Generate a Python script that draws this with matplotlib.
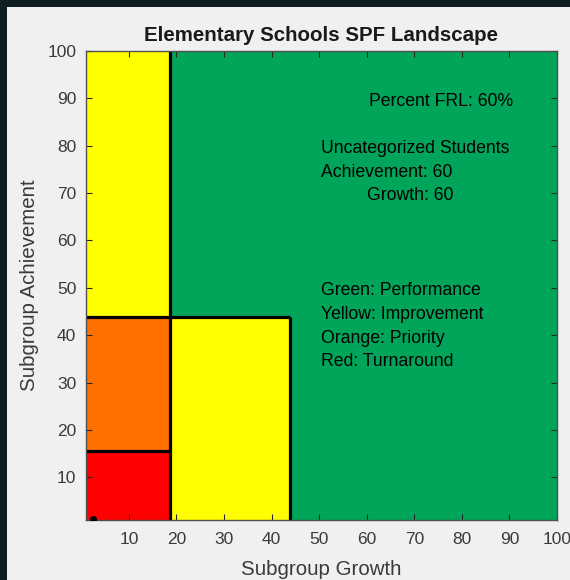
import matplotlib
matplotlib.use("Agg")
import matplotlib.pyplot as plt
from matplotlib.patches import Rectangle

plt.rcParams['font.family'] = ['Liberation Sans', 'DejaVu Sans']

# ---- data ----
title = "Elementary Schools SPF Landscape"
x_label = "Subgroup Growth"
y_label = "Subgroup Achievement"
ticks = [10, 20, 30, 40, 50, 60, 70, 80, 90, 100]
axis_min, axis_max = 1, 100

# rating regions (growth range, achievement range); remaining area is green
region_names = ["Yellow (upper)", "Yellow (lower)", "Orange", "Red"]
region_x0 = [1, 18.6, 1, 1]
region_x1 = [18.6, 43.8, 18.6, 18.6]
region_y0 = [43.8, 1, 15.6, 1]
region_y1 = [100, 43.8, 43.8, 15.6]
region_colors = ["#FFFF00", "#FFFF00", "#FF7000", "#FF0000"]
background_color = "#00A55A"

# boundary lines between ratings
boundary_x = [[18.6, 18.6], [1, 43.8], [43.8, 43.8], [1, 18.6]]
boundary_y = [[1, 100], [43.8, 43.8], [1, 43.8], [15.6, 15.6]]

# school point
school_x = [2.5]
school_y = [1.2]

frl_text = "Percent FRL: 60%"
uncat_lines = ["Uncategorized Students", "Achievement: 60", "Growth: 60"]
uncat_x = [50.3, 50.3, 60]
uncat_y = [80, 75, 70]
legend_lines = ["Green: Performance", "Yellow: Improvement", "Orange: Priority", "Red: Turnaround"]
legend_y = [50, 45, 40, 35]

# ---- figure ----
fig = plt.figure(figsize=(5.7, 5.8), dpi=100, facecolor="#0f1f21")
panel = Rectangle((7 / 570, 0), 1, 1 - 7 / 580, transform=fig.transFigure,
                  facecolor="#F0F0F0", edgecolor="none", zorder=-10)
fig.patches.append(panel)

ax = fig.add_axes([86 / 570, 1 - 520 / 580, (557 - 86) / 570, (520 - 51) / 580])
ax.set_zorder(1)
ax.set_facecolor(background_color)
ax.set_xlim(axis_min, axis_max)
ax.set_ylim(axis_min, axis_max)

for x0, x1, y0, y1, c in zip(region_x0, region_x1, region_y0, region_y1, region_colors):
    ax.add_patch(Rectangle((x0, y0), x1 - x0, y1 - y0, facecolor=c, edgecolor="none", zorder=1))

for bx, by in zip(boundary_x, boundary_y):
    ax.plot(bx, by, color="black", lw=2.3, solid_capstyle="butt", zorder=2)

ax.plot(school_x, school_y, "o", color="black", ms=4, zorder=3, clip_on=True)

dy = -0.6
txt_kw = dict(fontsize=12.7, color="black", va="center", ha="left", zorder=4)
ax.text(60.5, 90 + dy, frl_text, **txt_kw)
for s, x, y in zip(uncat_lines, uncat_x, uncat_y):
    ax.text(x, y + dy, s, **txt_kw)
for s, y in zip(legend_lines, legend_y):
    ax.text(50.3, y + dy, s, **txt_kw)

gray = "#262626"
ax.set_xticks(ticks)
ax.set_yticks(ticks)
ax.tick_params(direction="in", length=4, width=0.8, colors=gray, labelsize=12.5,
               top=True, right=True, labelcolor="#3a3a3a")
ax.tick_params(axis="x", pad=9)
ax.tick_params(axis="y", pad=7)
for sp in ax.spines.values():
    sp.set_color("#505050")
    sp.set_linewidth(1.0)

ax.set_title(title, fontsize=14.8, fontweight="bold", color="#1a1a1a", pad=7)
ax.set_xlabel(x_label, fontsize=14.8, color="#3a3a3a", labelpad=9)
ax.set_ylabel(y_label, fontsize=14.8, color="#3a3a3a", labelpad=6)

fig.savefig("out.png", dpi=100, facecolor=fig.get_facecolor())
